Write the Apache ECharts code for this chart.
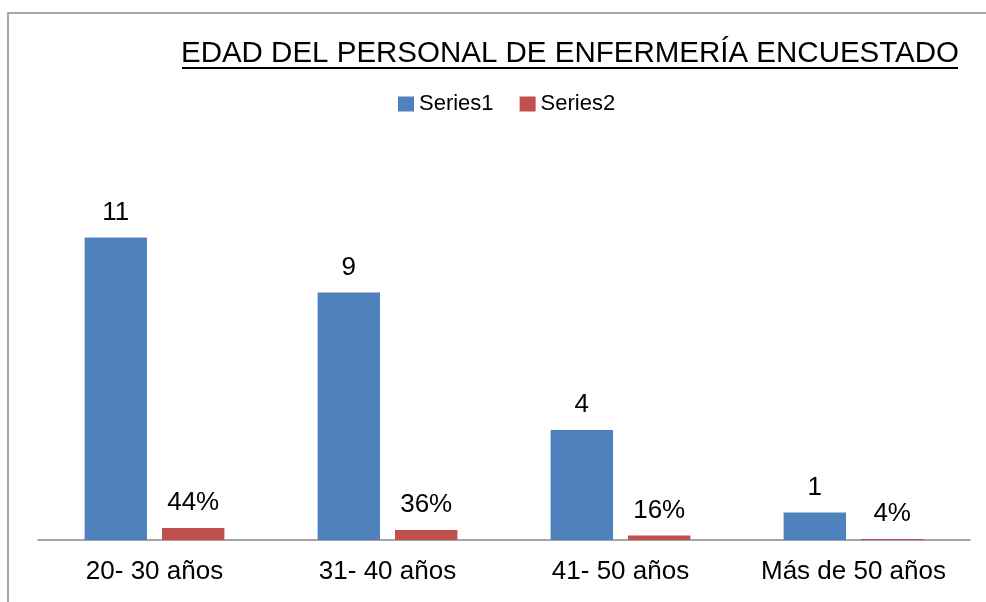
<!DOCTYPE html>
<html>
<head>
<meta charset="utf-8">
<script src="https://cdn.jsdelivr.net/npm/echarts@6/dist/echarts.min.js"></script>
<style>
html,body{margin:0;padding:0;background:#fff;}
#chart{width:986px;height:602px;}
</style>
</head>
<body>
<div id="chart"></div>
<script>
var titleText = 'EDAD DEL PERSONAL DE ENFERMERÍA ENCUESTADO';
var categories = ['20- 30 años', '31- 40 años', '41- 50 años', 'Más de 50 años'];
var series1Name = 'Series1';
var series2Name = 'Series2';
var series1 = [11, 9, 4, 1];
var series2 = [0.44, 0.36, 0.16, 0.04];

var chart = echarts.init(document.getElementById('chart'), null, {renderer: 'canvas'});
var font = '"Liberation Sans", Arial, sans-serif';
chart.setOption({
  backgroundColor: '#ffffff',
  animation: false,
  title: {
    text: titleText,
    left: 565,
    textAlign: 'center',
    top: 34,
    textStyle: {fontFamily: font, fontSize: 29.5, fontWeight: 'normal', color: '#000'}
  },
  legend: {
    left: 393,
    top: 88,
    itemWidth: 16,
    itemHeight: 15,
    itemGap: 26,
    icon: 'rect',
    textStyle: {fontFamily: font, fontSize: 22, color: '#000'},
    data: [series1Name, series2Name]
  },
  graphic: [
    {type: 'rect', shape: {x: 8, y: 13, width: 1100, height: 700}, style: {fill: 'none', stroke: '#8c8c8c', lineWidth: 1.5}, silent: true},
    {type: 'line', shape: {x1: 182, y1: 68, x2: 958, y2: 68}, style: {stroke: '#000', lineWidth: 2}, silent: true}
  ],
  grid: {left: 38, right: 16, top: 210, bottom: 62, containLabel: false},
  xAxis: {
    type: 'category',
    data: categories,
    axisLine: {lineStyle: {color: '#868686', width: 1.5}},
    axisTick: {show: false},
    axisLabel: {fontFamily: font, fontSize: 26, color: '#000', margin: 19, interval: 0}
  },
  yAxis: {
    type: 'value',
    min: 0,
    max: 12,
    show: false,
    splitLine: {show: false}
  },
  series: [
    {
      name: series1Name,
      type: 'bar',
      data: series1,
      barGap: '24%',
      barCategoryGap: '40%',
      itemStyle: {color: '#4F81BD'},
      label: {show: true, position: 'top', distance: 12, fontFamily: font, fontSize: 26, color: '#000'}
    },
    {
      name: series2Name,
      type: 'bar',
      data: series2,
      barGap: '24%',
      barCategoryGap: '40%',
      itemStyle: {color: '#C0504D'},
      label: {show: true, position: 'top', distance: 12, fontFamily: font, fontSize: 26, color: '#000',
        formatter: function (p) { return Math.round(p.value * 100) + '%'; }}
    }
  ]
});
</script>
</body>
</html>
